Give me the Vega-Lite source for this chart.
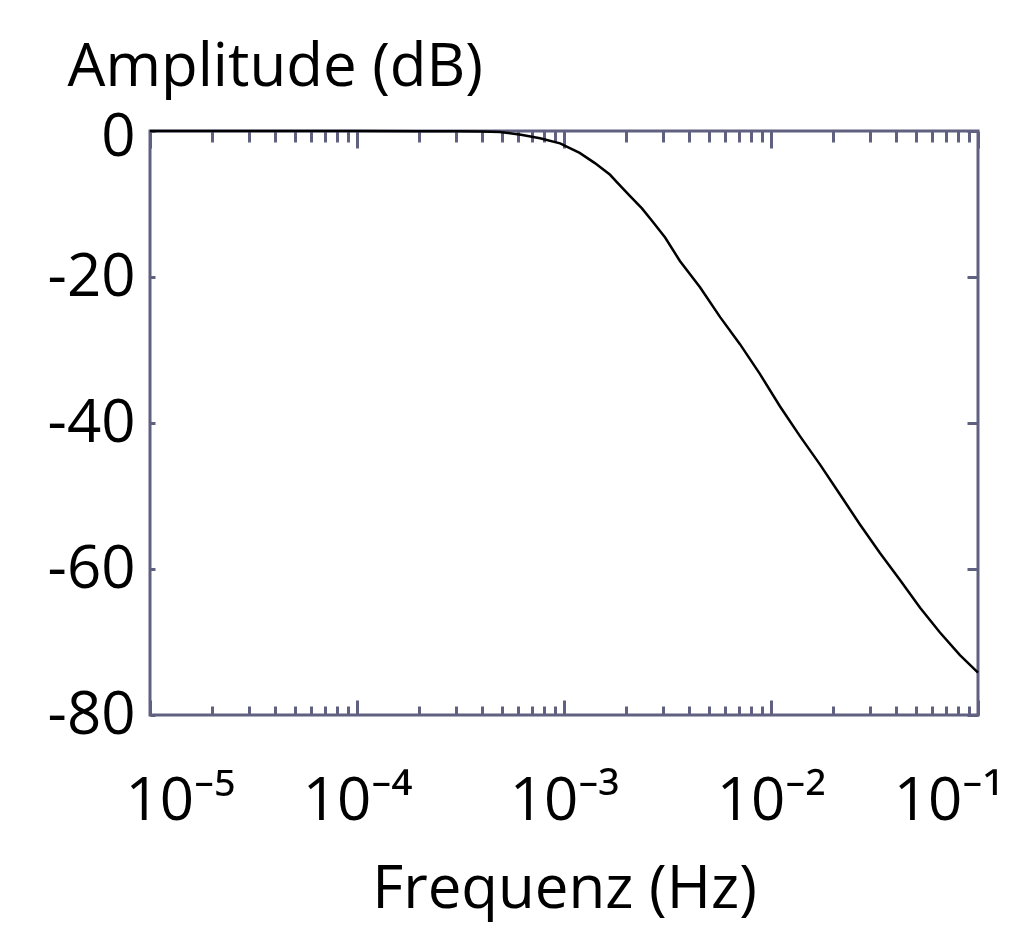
{
  "$schema": "https://vega.github.io/schema/vega-lite/v6.json",
  "width": 828,
  "height": 584,
  "autosize": "none",
  "padding": {"left": 150, "top": 131, "right": 41, "bottom": 210},
  "background": "white",
  "config": {
    "view": {"stroke": "#606080", "strokeWidth": 3},
    "font": "Open Sans, Noto Sans, DejaVu Sans",
    "axis": {"grid": false, "domain": false, "labelFont": "Open Sans, Noto Sans, DejaVu Sans", "titleFont": "Open Sans, Noto Sans, DejaVu Sans", "tickColor": "#606080", "tickWidth": 3, "labelColor": "black", "titleColor": "black", "titleFontWeight": "normal", "labelFontSize": 60, "titleFontSize": 60}
  },
  "data": {"values": [
    {"f": 0.00001, "db": 0},
    {"f": 0.00003, "db": 0},
    {"f": 0.0001, "db": 0},
    {"f": 0.0002, "db": -0.02},
    {"f": 0.0003, "db": -0.05},
    {"f": 0.0004, "db": -0.08},
    {"f": 0.00049, "db": -0.15},
    {"f": 0.00062, "db": -0.5},
    {"f": 0.000766, "db": -1.0},
    {"f": 0.000957, "db": -1.7},
    {"f": 0.00119, "db": -3.0},
    {"f": 0.00141, "db": -4.4},
    {"f": 0.00167, "db": -6.0},
    {"f": 0.0018, "db": -7.0},
    {"f": 0.00208, "db": -8.9},
    {"f": 0.00238, "db": -10.6},
    {"f": 0.00266, "db": -12.3},
    {"f": 0.00308, "db": -14.6},
    {"f": 0.00363, "db": -17.8},
    {"f": 0.00454, "db": -21.4},
    {"f": 0.00568, "db": -25.5},
    {"f": 0.00708, "db": -29.2},
    {"f": 0.00885, "db": -33.3},
    {"f": 0.01104, "db": -37.7},
    {"f": 0.0138, "db": -41.8},
    {"f": 0.01726, "db": -45.7},
    {"f": 0.02155, "db": -49.8},
    {"f": 0.0269, "db": -53.9},
    {"f": 0.0336, "db": -57.8},
    {"f": 0.042, "db": -61.5},
    {"f": 0.0525, "db": -65.3},
    {"f": 0.0655, "db": -68.7},
    {"f": 0.0818, "db": -71.8},
    {"f": 0.1, "db": -74.2}
  ]},
  "resolve": {"axis": {"x": "independent", "y": "independent"}},
  "layer": [
    {
      "mark": {"type": "line", "color": "black", "strokeWidth": 2.5},
      "encoding": {
        "x": {"field": "f", "type": "quantitative",
          "scale": {"type": "log", "domain": [0.00001, 0.1], "nice": false},
          "axis": {
            "orient": "bottom",
            "title": "Frequenz (Hz)",
            "titleAnchor": "middle",
            "titleBaseline": "alphabetic",
            "titleY": 192,
            "values": [0.00001,0.00002,0.00003,0.00004,0.00005,0.00006,0.00007,0.00008,0.00009,0.0001,0.0002,0.0003,0.0004,0.0005,0.0006,0.0007,0.0008,0.0009,0.001,0.002,0.003,0.004,0.005,0.006,0.007,0.008,0.009,0.01,0.02,0.03,0.04,0.05,0.06,0.07,0.08,0.09,0.1],
            "tickSize": {"condition": {"test": "datum.value == 0.00001 || datum.value == 0.0001 || datum.value == 0.001 || datum.value == 0.01 || datum.value == 0.1", "value": -15}, "value": -9},
            "labelExpr": "datum.value == 0.00001 ? '10⁻⁵' : datum.value == 0.0001 ? '10⁻⁴' : datum.value == 0.001 ? '10⁻³' : datum.value == 0.01 ? '10⁻²' : datum.value == 0.1 ? '10⁻¹' : ''",
            "labelOverlap": false,
            "labelBound": false,
            "labelFlush": true,
            "labelFlushOffset": 25,
            "labelBaseline": "alphabetic",
            "labelPadding": 119
          }
        },
        "y": {"field": "db", "type": "quantitative",
          "scale": {"domain": [-80, 0], "nice": false},
          "axis": {
            "orient": "left",
            "values": [0, -20, -40, -60, -80],
            "tickSize": -5,
            "labelPadding": 20,
            "labelBaseline": "middle",
            "labelOffset": {"condition": {"test": "datum.value == 0", "value": 6}, "value": 0},
            "labelExpr": "datum.value == 0 ? '0' : '-' + abs(datum.value)",
            "title": "Amplitude (dB)",
            "titleAngle": 0,
            "titleAlign": "left",
            "titleBaseline": "alphabetic",
            "titleX": -83,
            "titleY": -46
          }
        }
      }
    },
    {
      "mark": {"type": "line", "color": "black", "strokeWidth": 2, "opacity": 0},
      "encoding": {
        "x": {"field": "f", "type": "quantitative",
          "axis": {
            "orient": "top",
            "title": null,
            "labels": false,
            "values": [0.00001,0.00002,0.00003,0.00004,0.00005,0.00006,0.00007,0.00008,0.00009,0.0001,0.0002,0.0003,0.0004,0.0005,0.0006,0.0007,0.0008,0.0009,0.001,0.002,0.003,0.004,0.005,0.006,0.007,0.008,0.009,0.01,0.02,0.03,0.04,0.05,0.06,0.07,0.08,0.09,0.1],
            "tickSize": {"condition": {"test": "datum.value == 0.00001 || datum.value == 0.0001 || datum.value == 0.001 || datum.value == 0.01 || datum.value == 0.1", "value": -17}, "value": -11}
          }
        },
        "y": {"field": "db", "type": "quantitative",
          "axis": {
            "orient": "right",
            "title": null,
            "labels": false,
            "values": [0, -20, -40, -60, -80],
            "tickSize": -11
          }
        }
      }
    }
  ]
}
